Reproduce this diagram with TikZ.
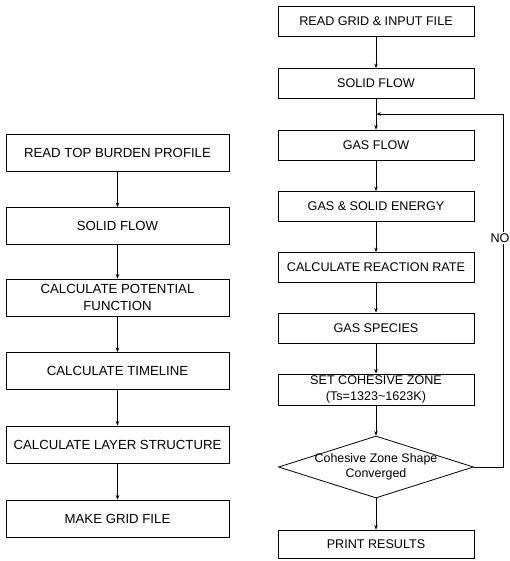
\documentclass[tikz,border=0pt]{standalone}
\usepackage{fontspec}
\setmainfont{Liberation Sans}
\usetikzlibrary{arrows.meta,shapes.geometric}
\begin{document}
\begin{tikzpicture}[x=1pt,y=-1pt,
  lbox/.style={draw,line width=0.8pt,rectangle,minimum width=223pt,minimum height=37pt,inner sep=1pt,align=center,font=\fontsize{13.2}{16.5}\selectfont},
  rbox/.style={draw,line width=0.8pt,rectangle,minimum width=196pt,minimum height=30pt,inner sep=1pt,align=center,font=\fontsize{12.6}{16}\selectfont},
  flow/.style={line width=1pt,-{Stealth[length=4.5pt,width=3.5pt]}},
  link/.style={line width=0.9pt}]
\useasboundingbox (0,0) rectangle (509,561);
\fill[white] (0,0) rectangle (509,561);
% left column
\node[lbox] (L1) at (117.5,152.5) {READ TOP BURDEN PROFILE};
\node[lbox] (L2) at (117.5,226) {SOLID FLOW};
\node[lbox] (L3) at (117.5,297.5) {CALCULATE POTENTIAL\\FUNCTION};
\node[lbox] (L4) at (117.5,371) {CALCULATE TIMELINE};
\node[lbox] (L5) at (117.5,444.5) {CALCULATE LAYER STRUCTURE};
\node[lbox] (L6) at (117.5,518.5) {MAKE GRID FILE};
\draw[flow] (L1) -- (L2);
\draw[flow] (L2) -- (L3);
\draw[flow] (L3) -- (L4);
\draw[flow] (L4) -- (L5);
\draw[flow] (L5) -- (L6);
% right column
\node[rbox] (R1) at (376,21.5) {READ GRID \& INPUT FILE};
\node[rbox] (R2) at (376,83.5) {SOLID FLOW};
\node[rbox] (R3) at (376,145) {GAS FLOW};
\node[rbox] (R4) at (376,206.5) {GAS \& SOLID ENERGY};
\node[rbox] (R5) at (376,267.5) {CALCULATE REACTION RATE};
\node[rbox] (R6) at (376,328) {GAS SPECIES};
\node[rbox,minimum height=31pt] (R7) at (376,389.5) {SET COHESIVE ZONE\\(Ts=1323\textasciitilde1623K)};
\node[draw,line width=0.8pt,diamond,minimum width=195pt,minimum height=62pt,inner sep=0pt,
  label={[align=center,font=\fontsize{12.4}{14.5}\selectfont]center:Cohesive Zone Shape\\Converged}] (D) at (376,467) {};
\node[rbox,minimum height=28pt] (R8) at (376,544) {PRINT RESULTS};
\draw[flow] (R1) -- (R2);
\draw[flow] (R2) -- (R3);
\draw[flow] (R3) -- (R4);
\draw[flow] (R4) -- (R5);
\draw[flow] (R5) -- (R6);
\draw[flow] (R6) -- (R7);
\draw[flow] (R7) -- (D);
\draw[flow] (D) -- (R8);
% feedback loop
\coordinate (cA) at (503,467);
\coordinate (cB) at (503,114);
\coordinate (join) at (376.5,114);
\draw[link,-{Stealth[length=4.5pt,width=3.5pt]}] (D.east) -- (cA) -- (cB) -- (join);
\node[fill=white,inner sep=1.5pt,font=\fontsize{12.6}{15}\selectfont] (NO) at (500,238) {NO};
\end{tikzpicture}
\end{document}
